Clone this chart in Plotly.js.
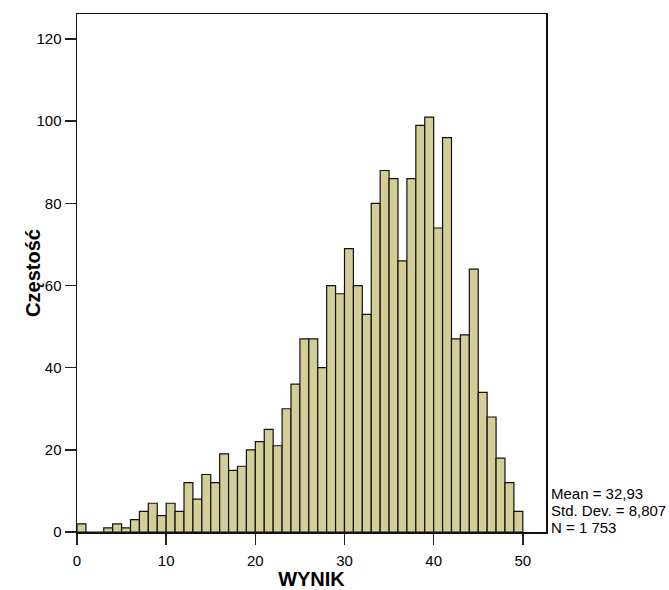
<!DOCTYPE html>
<html>
<head>
<meta charset="utf-8">
<script src="https://cdn.plot.ly/plotly-3.0.1.min.js"></script>
<style>
  html, body { margin: 0; padding: 0; background: #ffffff; }
  #chart { width: 669px; height: 590px; }
</style>
</head>
<body>
<div id="chart"></div>
<script>
// Histogram bins: left edge of each bin (width 1) and its frequency
var binLeft = [0,1,2,3,4,5,6,7,8,9,10,11,12,13,14,15,16,17,18,19,20,21,22,23,24,25,26,27,28,29,30,31,32,33,34,35,36,37,38,39,40,41,42,43,44,45,46,47,48,49];
var counts  = [2,0,0,1,2,1,3,5,7,4,7,5,12,8,14,12,19,15,16,20,22,25,21,30,36,47,47,40,60,58,69,60,53,80,88,86,66,86,99,101,74,96,47,48,64,34,28,18,12,5];
var binWidth = 1;

var xTicks = [0, 10, 20, 30, 40, 50];
var yTicks = [0, 20, 40, 60, 80, 100, 120];

var statsLines = ["Mean = 32,93", "Std. Dev. = 8,807", "N = 1 753"];
var xTitle = "WYNIK";
var yTitle = "Częstość";

var FONT = "Arial, 'Liberation Sans', sans-serif";

var trace = {
  type: "bar",
  x: binLeft,
  y: counts,
  width: binLeft.map(function(){ return binWidth; }),
  offset: 0,
  marker: {
    color: "#d3ce97",
    line: { color: "#111111", width: 1.2 }
  },
  hoverinfo: "x+y"
};

// stats block: three lines, 17 px apart, last line resting on the x axis
var statsAnn = statsLines.map(function(s, i) {
  return {
    xref: "paper", yref: "paper",
    x: 1.006, y: 0,
    xanchor: "left", yanchor: "middle",
    yshift: 5 + (statsLines.length - 1 - i) * 17,
    align: "left",
    showarrow: false,
    text: s,
    font: { family: FONT, size: 15, color: "#000000" }
  };
});

var layout = {
  width: 669,
  height: 590,
  margin: { l: 77, r: 123, t: 14, b: 58, pad: 0 },
  paper_bgcolor: "#ffffff",
  plot_bgcolor: "#ffffff",
  showlegend: false,
  bargap: 0,
  font: { family: FONT, color: "#000000", size: 15 },
  xaxis: {
    range: [0, 52.6],
    tickvals: xTicks,
    ticktext: xTicks.map(String),
    ticks: "outside",
    ticklen: 11,
    tickwidth: 1.5,
    tickcolor: "#222222",
    ticklabelstandoff: 3,
    showline: true,
    linecolor: "#111111",
    linewidth: 1.5,
    mirror: true,
    showgrid: false,
    zeroline: false,
    tickfont: { family: FONT, size: 15, color: "#000000" },
    title: { text: xTitle, font: { family: FONT, size: 20, color: "#000000", weight: "bold" }, standoff: 4 }
  },
  yaxis: {
    range: [0, 126.1],
    tickvals: yTicks,
    ticktext: yTicks.map(String),
    ticks: "outside",
    ticklen: 11,
    tickwidth: 1.5,
    tickcolor: "#222222",
    showline: true,
    linecolor: "#111111",
    linewidth: 1.5,
    mirror: true,
    showgrid: false,
    zeroline: false,
    tickfont: { family: FONT, size: 15, color: "#000000" },
    title: { text: "" }
  },
  annotations: statsAnn.concat([{
    xref: "paper", yref: "paper",
    x: -0.094, y: 0.5,
    xanchor: "center", yanchor: "middle",
    textangle: -90,
    showarrow: false,
    text: yTitle,
    font: { family: FONT, size: 20, color: "#000000", weight: "bold" }
  }])
};

Plotly.newPlot("chart", [trace], layout, { displayModeBar: false, staticPlot: true });
</script>
</body>
</html>
